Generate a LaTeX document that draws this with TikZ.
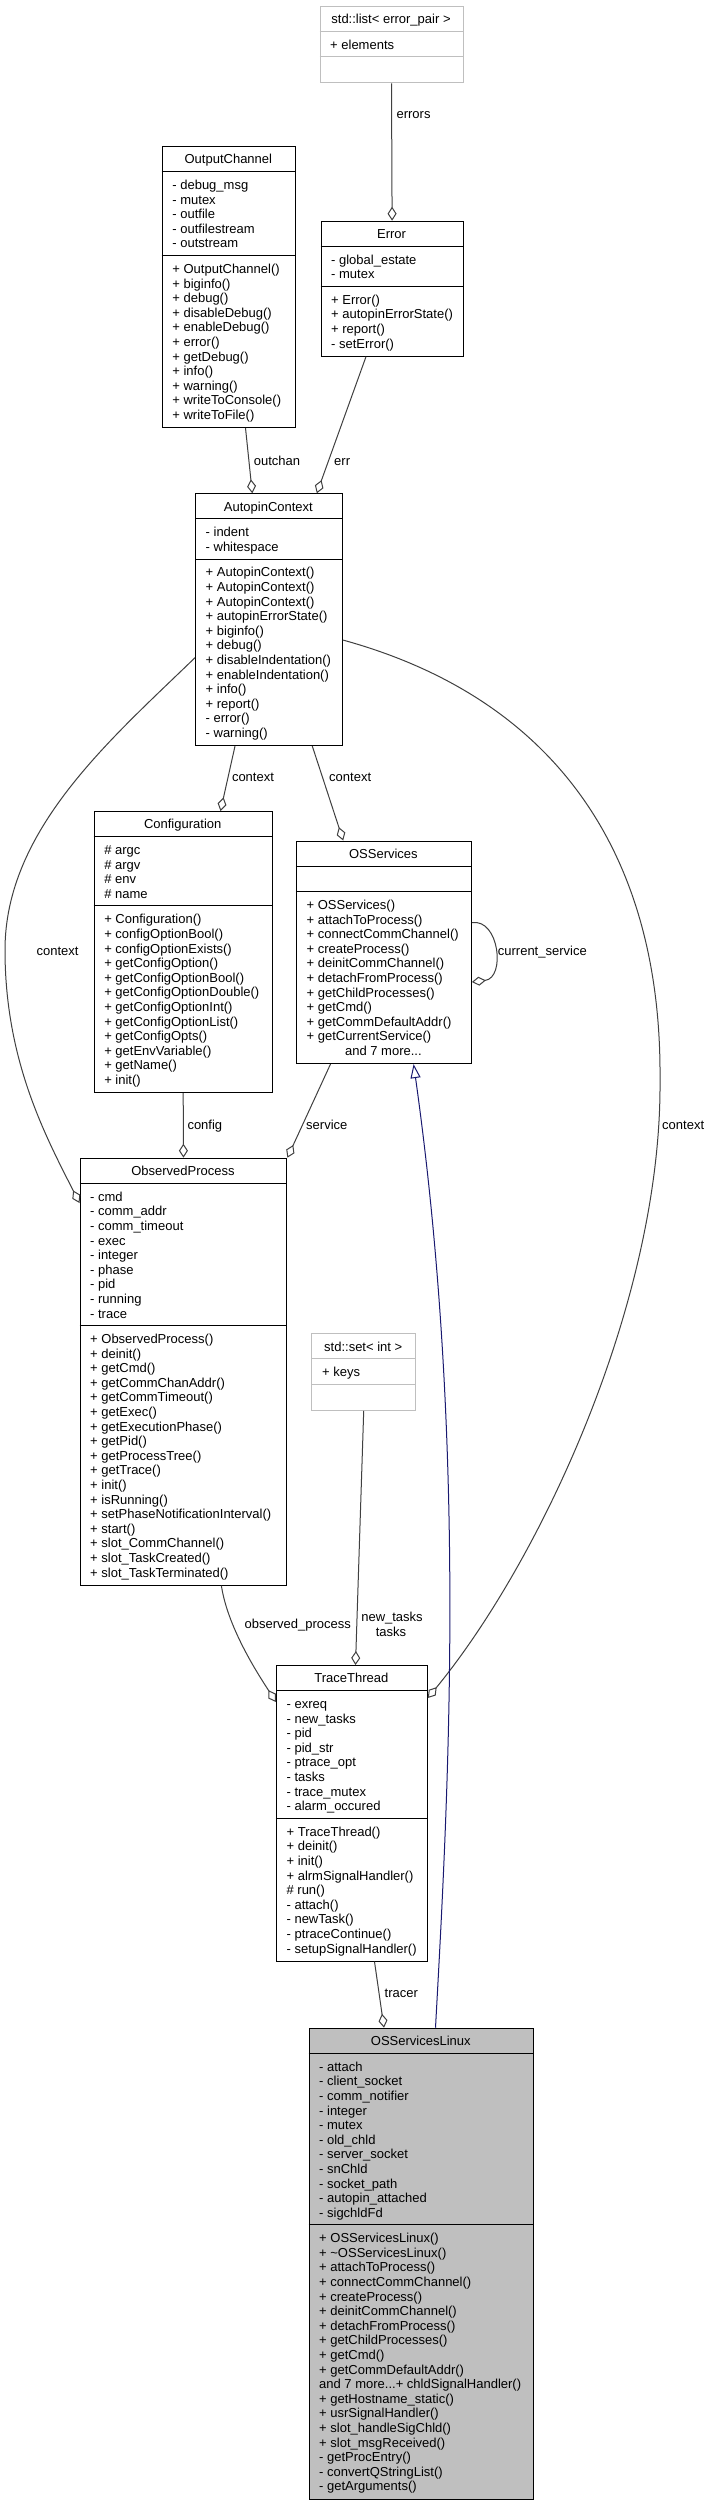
\documentclass[tikz,border=0pt]{standalone}
\usepackage{fontspec}
\setmainfont{Liberation Sans}
\usetikzlibrary{arrows.meta}
\definecolor{edgegray}{HTML}{404040}
\definecolor{boxgray}{HTML}{BFBFBF}
\definecolor{navyedge}{HTML}{191970}
\newcommand\tdots{...}
\newcommand\dxfont{\fontsize{13}{14.6}\selectfont}
% #1 name, #2 left, #3 right, #4 top, #5 title, #6 n attrs, #7 attrs, #8 n methods, #9 methods
\newcommand\umlclass[9]{%
  \pgfmathsetmacro\ua{#4+25.6}%
  \pgfmathsetmacro\ub{\ua+#6*14.6+10.9}%
  \pgfmathsetmacro\uc{\ub+#8*14.6+10.9}%
  \pgfmathsetmacro\uw{#3-#2}%
  \pgfmathsetmacro\uh{\uc-#4}%
  \node[curbox, minimum width=\uw pt, minimum height=\uh pt, anchor=north west] (#1) at (#2,#4) {};
  \draw[curline] (#2,\ua) -- (#3,\ua) (#2,\ub) -- (#3,\ub);
  \node[ttl] (#1-t) at ({(#2+#3)/2},{#4+17.9}) {#5};
  \foreach \ut [count=\i] in {#7} {\node[txt] (#1-a\i) at ({#2+10.5},{\ua+17.9+(\i-1)*14.6}) {\ut};}
  \foreach \ut [count=\i] in {#9} {\node[txt] (#1-m\i) at ({#2+10.5},{\ub+17.9+(\i-1)*14.6}) {\ut};}
}
\begin{document}
\begin{tikzpicture}[x=1pt,y=-1pt,
  plainbox/.style={rectangle, draw=black, fill=white, line width=1pt, inner sep=0pt},
  greybox/.style={rectangle, draw=boxgray, fill=white, line width=1pt, inner sep=0pt},
  filledbox/.style={rectangle, draw=black, fill=boxgray, line width=1pt, inner sep=0pt},
  blackline/.style={draw=black, line width=1pt},
  greyline/.style={draw=boxgray, line width=1pt},
  txt/.style={anchor=base west, inner sep=0pt, font=\dxfont},
  ttl/.style={anchor=base, inner sep=0pt, font=\dxfont},
  lbl/.style={anchor=base west, inner sep=0pt, font=\dxfont},
  assoc/.style={draw=edgegray, line width=1pt, line join=miter, -{Diamond[length=14pt,width=9pt,fill=white]}},
  inherit/.style={draw=navyedge, line width=1pt, line join=miter, -{Triangle[length=14pt,width=10pt,fill=white]}}]
\fill[white] (0,0) rectangle (711,2507);
\useasboundingbox (0,0) rectangle (711,2507);

\tikzset{curbox/.style=greybox, curline/.style=greyline}
\umlclass{stdlist}{319.5}{462.5}{5.7}{std::list< error\_pair >}{1}{+ elements}{1}{}
\umlclass{stdset}{311.4}{415}{1333.3}{std::set< int >}{1}{+ keys}{1}{}

\tikzset{curbox/.style=plainbox, curline/.style=blackline}
\umlclass{error}{320.5}{462.7}{220.7}{Error}{2}{- global\_estate,- mutex}{4}{+ Error(),+ autopinErrorState(),+ report(),- setError()}
\umlclass{oc}{161.7}{295}{146}{OutputChannel}{5}{- debug\_msg,- mutex,- outfile,- outfilestream,- outstream}{11}{+ OutputChannel(),+ biginfo(),+ debug(),+ disableDebug(),+ enableDebug(),+ error(),+ getDebug(),+ info(),+ warning(),+ writeToConsole(),+ writeToFile()}
\umlclass{ac}{195}{341.8}{493.3}{AutopinContext}{2}{- indent,- whitespace}{12}{+ AutopinContext(),+ AutopinContext(),+ AutopinContext(),+ autopinErrorState(),+ biginfo(),+ debug(),+ disableIndentation(),+ enableIndentation(),+ info(),+ report(),- error(),- warning()}
\umlclass{cfg}{93.6}{271.8}{811}{Configuration}{4}{\# argc,\# argv,\# env,\# name}{12}{+ Configuration(),+ configOptionBool(),+ configOptionExists(),+ getConfigOption(),+ getConfigOptionBool(),+ getConfigOptionDouble(),+ getConfigOptionInt(),+ getConfigOptionList(),+ getConfigOpts(),+ getEnvVariable(),+ getName(),+ init()}
\umlclass{oss}{295.9}{470.9}{840.5}{OSServices}{1}{}{11}{+ OSServices(),+ attachToProcess(),+ connectCommChannel(),+ createProcess(),+ deinitCommChannel(),+ detachFromProcess(),+ getChildProcesses(),+ getCmd(),+ getCommDefaultAddr(),+ getCurrentService()}
\node[ttl] (oss-more) at (383.4,1055.5) {and 7 more\tdots};
\umlclass{op}{79.5}{286.4}{1157.7}{ObservedProcess}{9}{- cmd,- comm\_addr,- comm\_timeout,- exec,- integer,- phase,- pid,- running,- trace}{17}{+ ObservedProcess(),+ deinit(),+ getCmd(),+ getCommChanAddr(),+ getCommTimeout(),+ getExec(),+ getExecutionPhase(),+ getPid(),+ getProcessTree(),+ getTrace(),+ init(),+ isRunning(),+ setPhaseNotificationInterval(),+ start(),+ slot\_CommChannel(),+ slot\_TaskCreated(),+ slot\_TaskTerminated()}
\umlclass{tt}{275.9}{426.8}{1665}{TraceThread}{8}{- exreq,- new\_tasks,- pid,- pid\_str,- ptrace\_opt,- tasks,- trace\_mutex,- alarm\_occured}{9}{+ TraceThread(),+ deinit(),+ init(),+ alrmSignalHandler(),\# run(),- attach(),- newTask(),- ptraceContinue(),- setupSignalHandler()}

\tikzset{curbox/.style=filledbox, curline/.style=blackline}
\umlclass{osl}{308.5}{533}{2027.7}{OSServicesLinux}{11}{- attach,- client\_socket,- comm\_notifier,- integer,- mutex,- old\_chld,- server\_socket,- snChld,- socket\_path,- autopin\_attached,- sigchldFd}{18}{+ OSServicesLinux(),+ \textasciitilde OSServicesLinux(),+ attachToProcess(),+ connectCommChannel(),+ createProcess(),+ deinitCommChannel(),+ detachFromProcess(),+ getChildProcesses(),+ getCmd(),+ getCommDefaultAddr(),and 7 more\tdots+ chldSignalHandler(),+ getHostname\_static(),+ usrSignalHandler(),+ slot\_handleSigChld(),+ slot\_msgReceived(),- getProcEntry(),- convertQStringList(),- getArguments()}

% connectors
\draw[assoc] (stdlist.south) -- (error.north);
\draw[assoc] ([xshift=83.8pt]oc.south west) -- ([xshift=57.3pt]ac.north west);
\draw[assoc] ([xshift=45.5pt]error.south west) -- ([xshift=121.8pt]ac.north west);
\draw[assoc] ([xshift=40pt]ac.south west) -- ([xshift=126.9pt]cfg.north west);
\draw[assoc] ([xshift=117.3pt]ac.south west) -- ([xshift=47.3pt]oss.north west);
\draw[assoc] ([yshift=-82.2pt]oss.north east) .. controls +(27.1,-4.7) and +(34.1,-4) .. ([yshift=-141.5pt]oss.north east);
\draw[assoc] (cfg.south) -- (op.north);
\draw[assoc] ([xshift=34.6pt]oss.south west) -- (op.north east);
\coordinate (lctx) at (5,950);
\draw[assoc] ([yshift=-164.4pt]ac.north west) .. controls +(-85,82.3) and (5,830) .. (lctx) .. controls (5,1060) and +(-34.5,-68) .. ([yshift=-45.3pt]op.north west);
\coordinate (rctx) at (660,1080);
\draw[assoc] ([yshift=-146.7pt]ac.north east) .. controls +(218.2,60) and (662,860) .. (rctx) .. controls (662,1300) and +(113.2,-138) .. ([yshift=-33pt]tt.north east);
\draw[assoc] (stdset.south) -- ([xshift=79.6pt]tt.north west);
\draw[assoc] ([xshift=141.9pt]op.south west) .. controls +(6.6,44.3) and +(-13.9,-22) .. ([yshift=-37pt]tt.north west);
\draw[assoc] ([xshift=98.6pt]tt.south west) -- ([xshift=75.5pt]osl.north west);
\draw[inherit] ([xshift=127pt]osl.north west) .. controls +(12.5,-227.7) and +(54.4,387) .. ([xshift=117.7pt]oss.south west);

% labels
\node[lbl] (l-errors) at (396.4,118.5) {errors};
\node[lbl] (l-outchan) at (253.6,465.5) {outchan};
\node[lbl] (l-err) at (334,465.5) {err};
\node[lbl] (l-ctx1) at (231.8,781.8) {context};
\node[lbl] (l-ctx2) at (329,781.8) {context};
\node[lbl] (l-cur) at (497.7,955.2) {current\_service};
\node[lbl] (l-ctx3) at (36.4,955.2) {context};
\node[lbl] (l-config) at (187.3,1129.2) {config};
\node[lbl] (l-service) at (306,1129.2) {service};
\node[lbl] (l-ctx4) at (662,1129.2) {context};
\node[ttl] (l-newtasks) at (392,1621.2) {new\_tasks};
\node[ttl] (l-tasks) at (391,1636.2) {tasks};
\node[lbl] (l-op) at (244.5,1628.8) {observed\_process};
\node[lbl] (l-tracer) at (384.5,1997.8) {tracer};
\end{tikzpicture}
\end{document}
